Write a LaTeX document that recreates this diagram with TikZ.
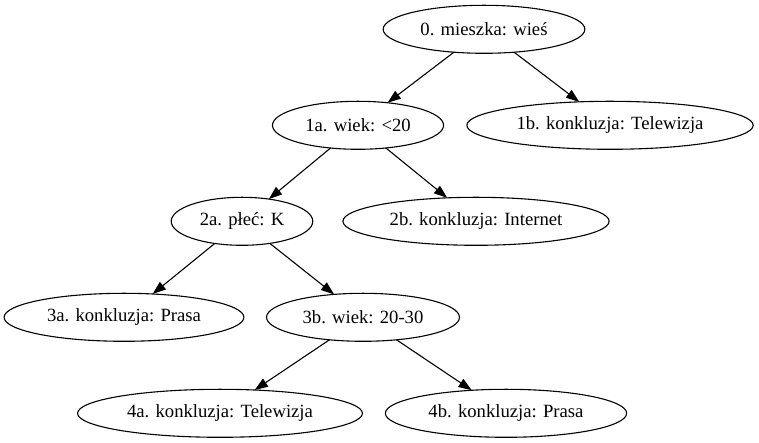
\documentclass[tikz,border=0pt]{standalone}
\usepackage{fontspec}
\setmainfont{Liberation Serif}
\usetikzlibrary{arrows.meta,shapes.geometric}
\begin{document}
\begin{tikzpicture}[x=1pt,y=1pt,
  nd/.style={ellipse,draw,line width=1.1pt,inner xsep=7.8pt,inner ysep=5.28pt,
    minimum height=48pt,outer sep=0pt,font=\fontsize{18.67}{22}\selectfont},
  ed/.style={line width=1.1pt,-{Triangle[length=13.3pt,width=9.5pt]}}]
\useasboundingbox (0,0) rectangle (759,443);
\node[nd] (n0)  at (484,413.7) {0. mieszka: wieś};
\node[nd] (n1a) at (358,317.7) {1a. wiek: <20};
\node[nd] (n1b) at (610,317.7) {1b. konkluzja: Telewizja};
\node[nd] (n2a) at (242,221.7) {2a. płeć: K};
\node[nd] (n2b) at (476,221.7) {2b. konkluzja: Internet};
\node[nd] (n3a) at (124,125.7) {3a. konkluzja: Prasa};
\node[nd] (n3b) at (363,125.7) {3b. wiek: 20-30};
\node[nd] (n4a) at (220,29.7) {4a. konkluzja: Telewizja};
\node[nd] (n4b) at (506,29.7) {4b. konkluzja: Prasa};
\draw[ed] (n0) -- (n1a);
\draw[ed] (n0) -- (n1b);
\draw[ed] (n1a) -- (n2a);
\draw[ed] (n1a) -- (n2b);
\draw[ed] (n2a) -- (n3a);
\draw[ed] (n2a) -- (n3b);
\draw[ed] (n3b) -- (n4a);
\draw[ed] (n3b) -- (n4b);
\end{tikzpicture}
\end{document}
